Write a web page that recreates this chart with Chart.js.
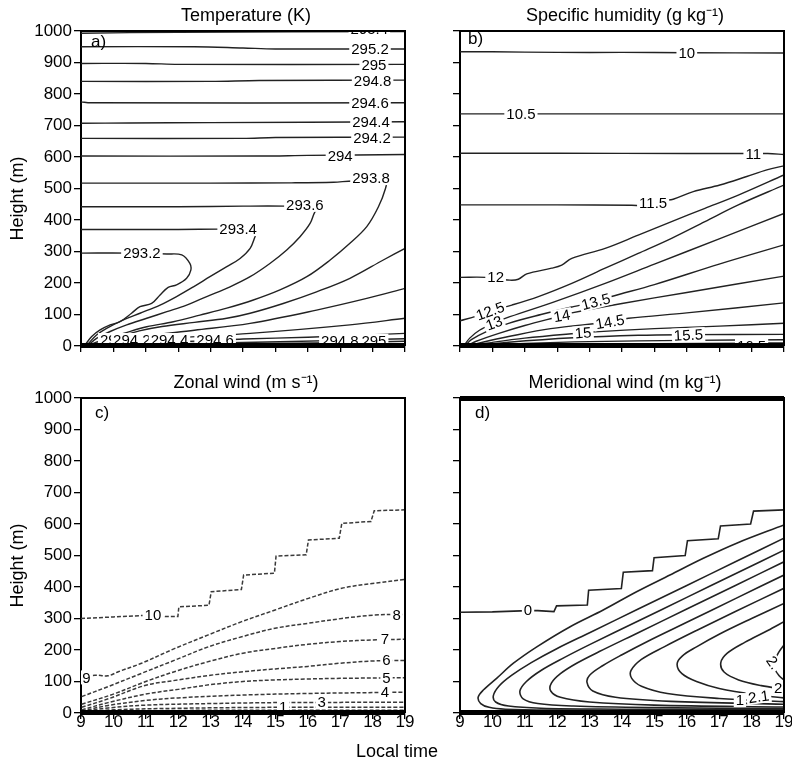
<!DOCTYPE html>
<html>
<head>
<meta charset="utf-8">
<script src="https://cdn.jsdelivr.net/npm/chart.js@4.4.0/dist/chart.umd.min.js"></script>
<style>
  body { margin: 0; background: #fff; }
  #wrap { position: relative; width: 792px; height: 767px; }
  canvas { position: absolute; left: 0; top: 0; }
</style>
</head>
<body>
<div id="wrap">
  <canvas id="chartA" width="792" height="767"></canvas>
  <canvas id="chartB" width="792" height="767"></canvas>
  <canvas id="chartC" width="792" height="767"></canvas>
  <canvas id="chartD" width="792" height="767"></canvas>
</div>
<script>
// axis ticks
const timeTicks = [9, 10, 11, 12, 13, 14, 15, 16, 17, 18, 19];
const heightTicks = [0, 100, 200, 300, 400, 500, 600, 700, 800, 900, 1000];

// a) temperature contours, [local time, height]
const tempLines = [
    [[9,295],[10.5,295],[11.65,292],[12.11,289],[12.36,262],[12.39,241],[12.26,215],[11.95,194],[11.69,186],[11.44,162],[11.18,135],[10.82,125],[10.56,104],[10.2,77],[9.9,67],[9.59,51],[9.33,30],[9.12,3],[9.08,0]],
    [[9,370],[12,370],[13.3,371],[14.3,371],[14.42,360],[14.37,347],[14.22,310],[13.91,278],[13.5,252],[12.98,220],[12.47,188],[11.95,157],[11.44,130],[10.82,104],[10.31,83],[9.79,56],[9.48,35],[9.23,8],[9.16,0]],
    [[9,442],[12,442],[14,444],[15.3,444],[16.35,440],[16.22,426],[16.07,389],[15.76,347],[15.35,305],[14.83,262],[14.22,220],[13.6,188],[12.88,157],[12.26,130],[11.65,109],[11.03,88],[10.41,67],[9.9,46],[9.48,24],[9.23,3],[9.2,0]],
    [[9,517],[13,517],[15.5,518],[16.8,520],[17.4,524],[18.4,520],[18.4,501],[18.18,442],[17.82,379],[17.3,326],[16.69,273],[15.97,220],[15.14,178],[14.32,146],[13.5,120],[12.67,98],[11.85,77],[11.03,61],[10.31,40],[9.79,24],[9.38,8],[9.25,0]],
    [[9,603],[14.5,603],[16,605],[19,608]],
    [[9.22,0],[9.6,12],[10.2,30],[10.8,48],[11.5,62],[12.5,75],[13.5,88],[14.22,104],[15.24,135],[16.27,172],[17.3,215],[18.33,273],[19,310]],
    [[9,659],[14,659],[15,662],[19,663]],
    [[9.28,0],[9.6,7],[10.2,18],[11,32],[12.5,50],[14.22,72],[16.27,114],[17.82,151],[19,183]],
    [[9,707],[10.5,708],[13,709],[19,712]],
    [[9.32,0],[9.8,6],[10.5,14],[12,26],[14.22,40],[17.3,67],[19,88]],
    [[9,775],[9.3,772],[19,772]],
    [[9.36,0],[10,5],[11,10],[13,17],[14,22],[16,28],[19,40]],
    [[9,840],[13,840],[14.5,843],[19,844]],
    [[9.4,0],[11,5],[14,11],[17,18],[19,23]],
    [[9,897],[11,897],[12,894],[19,894]],
    [[9.5,0],[12,4],[15,8],[17.5,12],[19,15]],
    [[9,950],[12.5,950],[14,946],[15,943],[19,943]],
    [[9,993],[12,996],[19,998]]
];
const tempLabels = [
    ['293.2', 10.88, 295, 0], ['293.4', 13.85, 371, 0], ['293.6', 15.91, 448, 0],
    ['293.8', 17.95, 533, 0], ['294', 17.0, 604, 0], ['294.2', 17.98, 662, 0],
    ['294.4', 17.95, 713, 0], ['294.6', 17.92, 772, 0], ['294.8', 18.0, 842, 0],
    ['295', 18.04, 893, 0], ['295.2', 17.92, 944, 0], ['295.4', 17.9, 1008, 0],
    ['294', 9.97, 19, 0], ['294.2', 10.57, 19, 0], ['294.4', 11.73, 19, 0],
    ['294.6', 13.14, 19, 0], ['294.8', 16.99, 17, 0], ['295', 18.04, 17, 0]
];

// b) specific humidity contours
const humLines = [
    [[9,934],[10,934],[12,932],[14,932],[16,931],[19,930]],
    [[9,737],[19,737]],
    [[9,612],[12,612],[16,611],[18.5,611],[19,608]],
    [[9,448],[12,448],[14.3,447],[14.7,446],[15.3,462],[15.58,466],[16.2,490],[17.02,511],[17.85,538],[18.47,559],[19,572]],
    [[9,218],[9.8,218],[10.54,209],[10.8,212],[11.06,229],[11.83,247],[12.14,257],[12.45,278],[13.48,310],[14.5,352],[15.53,395],[16.56,437],[17.59,479],[19,543]],
    [[9,80],[9.5,95],[9.93,111],[10.6,130],[11.42,157],[12.45,199],[13.48,247],[14.5,294],[15.53,342],[16.56,395],[17.59,448],[19,511]],
    [[9.12,0],[9.3,25],[9.6,50],[10.05,73],[10.54,93],[11.93,141],[13.48,199],[15,260],[17,340],[19,421]],
    [[9.15,0],[9.35,20],[9.8,45],[10.5,72],[11.5,100],[12.5,125],[13.19,141],[13.68,157],[15,195],[17,260],[19,321]],
    [[9.2,0],[9.5,15],[10.2,40],[11,65],[12.14,96],[12.45,105],[14,135],[16,170],[19,222]],
    [[9.25,0],[9.7,12],[10.5,30],[11.8,55],[13.63,77],[14.2,88],[16,105],[19,137]],
    [[9.3,0],[9.9,10],[11,25],[12.8,42],[13.17,45],[15,55],[17,63],[19,72]],
    [[9.35,0],[10.5,12],[12.5,26],[14.5,34],[16,36],[19,37]],
    [[9.4,0],[11,8],[13,14],[16,18],[19,20]],
    [[9.5,0],[12,4],[15,7],[18,9],[19,10]]
];
const humLabels = [
    ['10', 16.0, 931, 0], ['10.5', 10.88, 737, 0], ['11', 18.05, 611, 0],
    ['11.5', 14.96, 455, 0], ['12', 10.1, 218, 0], ['12.5', 9.93, 111, -20],
    ['13', 10.05, 73, -20], ['13.5', 13.19, 141, -15], ['14', 12.14, 96, -10],
    ['14.5', 13.63, 77, -10], ['15', 12.8, 42, -5], ['15.5', 16.05, 35, -3],
    ['16.5', 18.0, 2, 0]
];

// c) zonal wind contours (first one is the stepped 10 line)
const zonalLines = [
    [[9,300],[10,305],[11.2,311],[11.6,306],[11.99,306],[12.02,337],[12.95,342],[13.02,385],[13.95,392],[14.02,438],[14.97,444],[15.02,498],[15.95,502],[16.02,549],[16.97,555],[17.05,602],[17.95,608],[18.05,642],[19,645]],
    [[9,113],[9.43,120],[9.83,118],[10.15,131],[10.87,158],[11.9,205],[12.93,248],[13.96,290],[14.99,327],[16.02,364],[17.05,396],[18.07,412],[19,424]],
    [[9.02,52],[9.84,84],[10.87,126],[11.9,168],[12.93,210],[13.96,242],[14.99,269],[16.02,285],[17.05,300],[18.07,311],[19,313]],
    [[9.02,28],[10,60],[11,100],[12,135],[13,165],[14,190],[15,205],[16,218],[17,227],[18,232],[19,234]],
    [[9.02,18],[9.84,45],[11,88],[12,105],[13,120],[14,131],[15,140],[16,148],[17,158],[18,165],[19,167]],
    [[9.02,10],[9.84,33],[11,60],[12,75],[13,90],[14,100],[15,105],[16,108],[17,110],[19,112]],
    [[9.02,6],[9.84,24],[11,40],[12,48],[14,57],[16,62],[19,66]],
    [[9.02,4],[9.84,16],[11,25],[13,30],[15,33],[19,34]],
    [[9.02,2],[10,10],[12,15],[15,18],[19,18]],
    [[9.02,1],[10,5],[12,8],[15,9],[19,9]]
];
const zonalLabels = [
    ['10', 11.22, 311, 0], ['9', 9.17, 113, 0], ['8', 18.74, 313, 0],
    ['7', 18.38, 234, 0], ['6', 18.43, 170, 0], ['5', 18.43, 112, 0],
    ['4', 18.38, 68, 0], ['3', 16.43, 36, 0], ['1', 15.24, 18, 0]
];

// d) meridional wind contours (first one is the stepped 0 line)
const merLines = [
    [[9,320],[10,321],[11.1,325],[11.4,325],[11.9,322],[11.98,340],[12.93,343],[12.97,390],[13.98,395],[14.04,447],[14.94,452],[14.99,493],[15.95,500],[16.02,547],[16.97,553],[17.04,594],[17.97,600],[18.06,641],[19,645]],
    [[19,597],[17.54,539],[16.51,491],[15.48,438],[14.45,385],[13.42,327],[12.4,274],[11.37,210],[10.65,158],[10.13,110],[9.72,73],[9.56,50],[9.64,30],[9.9,18],[10.4,12],[12,9],[15,8],[19,7]],
    [[19,555],[17.5,480],[16,405],[14.5,330],[13,255],[12,205],[11.2,160],[10.6,120],[10.2,85],[10.03,55],[10.1,35],[10.5,22],[11.5,15],[14,12],[17,10],[19,10]],
    [[19,517],[17.5,442],[16,367],[14.5,292],[13,217],[12.2,175],[11.5,135],[11.05,100],[10.85,70],[10.95,45],[11.4,30],[12.5,22],[15,17],[19,14]],
    [[19,480],[17.5,405],[16,330],[14.5,255],[13.3,195],[12.6,158],[12.1,125],[11.82,95],[11.8,70],[12.1,50],[13,35],[15,25],[19,19]],
    [[19,438],[17.5,363],[16,288],[14.8,228],[14,185],[13.4,150],[13.0,120],[12.92,97],[13.1,70],[13.8,50],[15.5,37],[19,28]],
    [[19,396],[17.5,322],[16.3,262],[15.3,210],[14.6,170],[14.28,135],[14.3,110],[14.6,85],[15.4,62],[17,46],[19,36]],
    [[19,348],[18,300],[17,250],[16.3,210],[15.85,180],[15.7,155],[15.85,125],[16.3,100],[17,78],[18.2,57],[19,48]],
    [[19,290],[18.5,262],[17.8,225],[17.25,190],[17.05,160],[17.15,130],[17.6,105],[18.3,87],[19,76]],
    [[19,216],[18.85,195],[18.72,168],[18.72,140],[18.85,118],[19,105]]
];
const merLabels = [
    ['0', 11.1, 327, 0], ['1', 17.64, 41, 0], ['2.1', 18.22, 52, -8],
    ['2', 18.82, 80, 0], ['2.', 18.67, 160, 55]
];

const fontFamily = '"Liberation Sans", Arial, sans-serif';
Chart.defaults.font.family = fontFamily;

// draws the contour labels on white boxes
const labelPlugin = {
    id: 'contourLabels',
    afterDatasetsDraw(chart, args, opts) {
        const { ctx, chartArea, scales } = chart;
        ctx.save();
        ctx.beginPath();
        ctx.rect(chartArea.left, chartArea.top, chartArea.right - chartArea.left, chartArea.bottom - chartArea.top);
        ctx.clip();
        ctx.font = '15px ' + fontFamily;
        ctx.textAlign = 'center';
        ctx.textBaseline = 'middle';
        opts.labels.forEach(([text, x, y, rot]) => {
            const px = scales.x.getPixelForValue(x);
            const py = scales.y.getPixelForValue(y);
            const w = ctx.measureText(text).width;
            ctx.save();
            ctx.translate(px, py);
            ctx.rotate(rot * Math.PI / 180);
            ctx.fillStyle = '#fff';
            ctx.fillRect(-w / 2 - 2, -7, w + 4, 14);
            ctx.fillStyle = '#000';
            ctx.fillText(text, 0, 1);
            ctx.restore();
        });
        ctx.restore();
    }
};

// frame, thick bottom band and panel texts
const framePlugin = {
    id: 'panelText',
    afterDraw(chart, args, opts) {
        const { ctx, chartArea: a } = chart;
        ctx.save();
        ctx.strokeStyle = '#000';
        ctx.lineWidth = 2;
        ctx.beginPath();
        ctx.moveTo(a.left, a.top);
        ctx.lineTo(a.right, a.top);
        ctx.lineTo(a.right, a.bottom);
        ctx.stroke();
        ctx.fillStyle = '#000';
        ctx.fillRect(a.left, a.bottom - 3, a.right - a.left, 5);
        if (opts.thickTop) {
            ctx.fillRect(a.left, a.top - 2, a.right - a.left, 5);
        }
        ctx.textAlign = 'center';
        ctx.textBaseline = 'middle';
        ctx.font = '18px ' + fontFamily;
        ctx.fillText(opts.title, (a.left + a.right) / 2 + 3, a.top - 15);
        ctx.font = '17px ' + fontFamily;
        ctx.textAlign = 'left';
        ctx.fillText(opts.letter, a.left + opts.letterDx, a.top + opts.letterDy);
        ctx.font = '18px ' + fontFamily;
        if (opts.yTitle) {
            ctx.save();
            ctx.translate(18, (a.top + a.bottom) / 2 + 10);
            ctx.rotate(-Math.PI / 2);
            ctx.textAlign = 'center';
            ctx.fillText(opts.yTitle, 0, 0);
            ctx.restore();
        }
        if (opts.xTitle) {
            ctx.textAlign = 'center';
            ctx.fillText(opts.xTitle, 397, 752);
        }
        ctx.restore();
    }
};

function axisX(showLabels) {
    return {
        type: 'linear', min: 9, max: 19,
        afterBuildTicks: s => { s.ticks = timeTicks.map(v => ({ value: v })); },
        ticks: {
            color: '#000', padding: -7, maxRotation: 0, autoSkip: false,
            font: { size: 17 },
            callback: v => showLabels ? v : ''
        },
        grid: { drawOnChartArea: false, drawTicks: true, tickLength: 6, color: '#000', lineWidth: 1.3 },
        border: { display: true, color: '#000', width: 2 },
        afterFit: s => { s.height = 40; s.paddingLeft = 0; s.paddingRight = 0; }
    };
}

function axisY(showLabels) {
    return {
        type: 'linear', min: 0, max: 1000,
        afterBuildTicks: s => { s.ticks = heightTicks.map(v => ({ value: v })); },
        ticks: {
            color: '#000', padding: 2, autoSkip: false,
            font: { size: 17 },
            callback: v => showLabels ? v : ''
        },
        grid: { drawOnChartArea: false, drawTicks: true, tickLength: 7, color: '#000', lineWidth: 1.3 },
        border: { display: true, color: '#000', width: 2 },
        afterFit: s => { s.width = 60; s.paddingTop = 0; s.paddingBottom = 0; }
    };
}

function makePanel(id, box, lines, labels, look, text) {
    const datasets = lines.map((pts, i) => ({
        data: pts.map(p => ({ x: p[0], y: p[1] })),
        showLine: true,
        pointRadius: 0,
        borderColor: look.color,
        borderWidth: look.width,
        borderDash: look.dash || [],
        tension: i === look.stepped ? 0 : 0.35
    }));
    return new Chart(document.getElementById(id), {
        type: 'scatter',
        data: { datasets: datasets },
        options: {
            responsive: false,
            animation: false,
            events: [],
            layout: {
                padding: {
                    left: box.left - 60,
                    top: box.top,
                    right: 792 - box.right,
                    bottom: 767 - box.bottom - 40
                }
            },
            plugins: {
                legend: { display: false },
                tooltip: { enabled: false },
                contourLabels: { labels: labels },
                panelText: text
            },
            scales: {
                x: axisX(text.xLabels),
                y: axisY(text.yLabels)
            }
        },
        plugins: [labelPlugin, framePlugin]
    });
}

const solid = { color: '#222', width: 1.4, stepped: -1 };

makePanel('chartA', { left: 81, right: 405, top: 31, bottom: 346 }, tempLines, tempLabels, solid,
    { title: 'Temperature (K)', letter: 'a)', letterDx: 10, letterDy: 11, yTitle: 'Height (m)', xLabels: false, yLabels: true });

makePanel('chartB', { left: 460, right: 784, top: 31, bottom: 346 }, humLines, humLabels, solid,
    { title: 'Specific humidity (g kg\u207B\u00B9)', letter: 'b)', letterDx: 8, letterDy: 8, xLabels: false, yLabels: false });

makePanel('chartC', { left: 81, right: 405, top: 398, bottom: 713 }, zonalLines, zonalLabels,
    { color: '#3a3a3a', width: 1.5, dash: [4, 2], stepped: 0 },
    { title: 'Zonal wind (m s\u207B\u00B9)', letter: 'c)', letterDx: 14, letterDy: 15, yTitle: 'Height (m)', xTitle: 'Local time', xLabels: true, yLabels: true });

makePanel('chartD', { left: 460, right: 784, top: 398, bottom: 713 }, merLines, merLabels,
    { color: '#222', width: 1.6, stepped: 0 },
    { title: 'Meridional wind (m kg\u207B\u00B9)', letter: 'd)', letterDx: 15, letterDy: 15, thickTop: true, xLabels: true, yLabels: false });
</script>
</body>
</html>
